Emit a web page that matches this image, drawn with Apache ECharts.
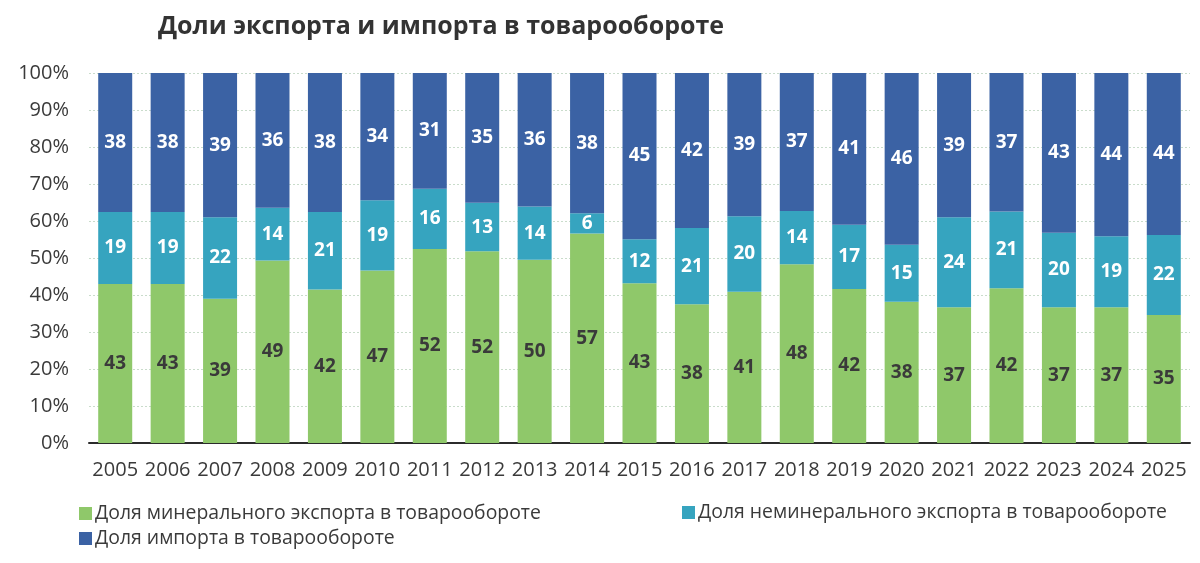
<!DOCTYPE html>
<html>
<head>
<meta charset="utf-8">
<script src="https://cdn.jsdelivr.net/npm/echarts@6/dist/echarts.min.js"></script>
<style>
  html, body { margin: 0; padding: 0; background: #ffffff; }
  #chart { width: 1200px; height: 563px; }
</style>
</head>
<body>
<div id="chart"></div>
<script>
// Shares of export / import in trade turnover, %.
const years = ['2005', '2006', '2007', '2008', '2009', '2010', '2011', '2012', '2013', '2014',
               '2015', '2016', '2017', '2018', '2019', '2020', '2021', '2022', '2023', '2024', '2025'];
const mineralExport = [43.0, 43.0, 39.0, 49.3, 41.5, 46.6, 52.4, 51.8, 49.5, 56.6,
                       43.2, 37.5, 40.9, 48.3, 41.6, 38.2, 36.7, 41.8, 36.7, 36.7, 34.6];
const nonMineralExport = [19.4, 19.4, 22.0, 14.3, 20.9, 19.0, 16.3, 13.1, 14.4, 5.5,
                          11.9, 20.6, 20.4, 14.4, 17.4, 15.4, 24.3, 20.8, 20.1, 19.2, 21.6];
const importShare = [37.6, 37.6, 39.0, 36.4, 37.6, 34.4, 31.3, 35.1, 36.1, 37.9,
                     44.9, 41.9, 38.7, 37.3, 41.0, 46.4, 39.0, 37.4, 43.2, 44.1, 43.8];
const yTicks = [0, 10, 20, 30, 40, 50, 60, 70, 80, 90, 100];

const NAME_MIN = 'Доля минерального экспорта в товарообороте';
const NAME_NONMIN = 'Доля неминерального экспорта в товарообороте';
const NAME_IMP = 'Доля импорта в товарообороте';

// Palette
const GREEN = '#8fc86a';
const CYAN  = '#36a4bf';
const BLUE  = '#3b62a4';
const TEXT  = '#3a3a3a';
const FONT  = '"Open Sans", "Noto Sans", sans-serif';

const chart = echarts.init(document.getElementById('chart'), null, { renderer: 'canvas' });

function barLabel(color) {
    return {
        show: true,
        position: 'inside',
        color: color,
        fontFamily: FONT,
        fontWeight: 'bold',
        fontSize: 19,
        formatter: p => Math.round(p.value)
    };
}

function legendItem(name, left, top) {
    return {
        data: [name],
        left: left,
        top: top,
        itemWidth: 13,
        itemHeight: 13,
        itemGap: 6,
        icon: 'rect',
        textStyle: { fontFamily: FONT, fontSize: 19.4, color: TEXT, padding: [0, 0, 0, -2] }
    };
}

chart.setOption({
    animation: false,
    backgroundColor: '#ffffff',
    title: {
        text: 'Доли экспорта и импорта в товарообороте',
        left: 153,
        top: 9,
        textStyle: { fontFamily: FONT, fontSize: 25, fontWeight: 'bold', color: '#333333' }
    },
    legend: [
        legendItem(NAME_MIN, 74, 499),
        legendItem(NAME_NONMIN, 677, 498),
        legendItem(NAME_IMP, 74, 524)
    ],
    grid: { left: 89, right: 10, top: 73, bottom: 120 },
    xAxis: {
        type: 'category',
        data: years,
        axisTick: { show: false },
        axisLine: { show: true, lineStyle: { color: '#2b2b2b', width: 2 } },
        axisLabel: { fontFamily: FONT, fontSize: 20, color: TEXT, margin: 17, interval: 0 }
    },
    yAxis: {
        type: 'value',
        min: yTicks[0],
        max: yTicks[yTicks.length - 1],
        interval: yTicks[1] - yTicks[0],
        axisLine: { show: false },
        axisTick: { show: false },
        axisLabel: { fontFamily: FONT, fontSize: 20, color: TEXT, margin: 20, formatter: '{value}%' },
        splitLine: { lineStyle: { color: '#c9dccb', type: [2, 2], width: 1 } }
    },
    series: [
        {
            name: NAME_MIN, type: 'bar', stack: 'total', data: mineralExport,
            barWidth: 34, itemStyle: { color: GREEN }, label: barLabel('#3a3a3a')
        },
        {
            name: NAME_NONMIN, type: 'bar', stack: 'total', data: nonMineralExport,
            barWidth: 34, itemStyle: { color: CYAN }, label: barLabel('#ffffff')
        },
        {
            name: NAME_IMP, type: 'bar', stack: 'total', data: importShare,
            barWidth: 34, itemStyle: { color: BLUE }, label: barLabel('#ffffff')
        }
    ]
});
</script>
</body>
</html>
